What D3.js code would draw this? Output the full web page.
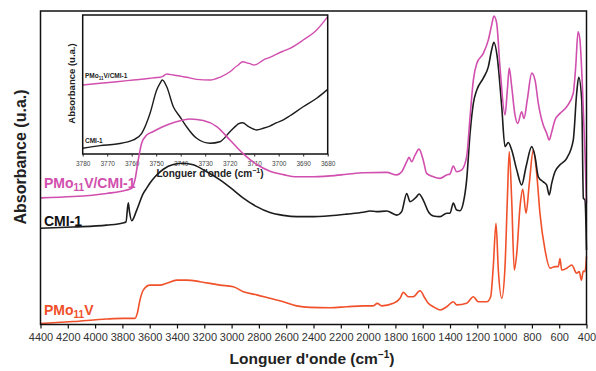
<!DOCTYPE html>
<html>
<head>
<meta charset="utf-8">
<script src="https://cdn.jsdelivr.net/npm/d3@7/dist/d3.min.js"></script>
<style>
  html, body { margin: 0; padding: 0; background: #fff; }
  svg { display: block; font-family: "Liberation Sans", Arial, sans-serif; }
</style>
</head>
<body>
<svg id="chart" width="596" height="371"></svg>
<script>
// FTIR spectra: wavenumber (cm-1) and absorbance (arbitrary units, stacked offsets)
const cmiWavenumber = [4400,4160,3915,3796,3774,3757,3748,3732,3695,3647,3622,3598,3561,3500,3427,3354,3281,3182,3085,2988,2914,2816,2719,2621,2523,2426,2279,2157,2035,1986,1937,1864,1790,1754,1717,1693,1644,1627,1596,1559,1522,1473,1424,1400,1376,1351,1327,1303,1278,1253,1229,1204,1156,1119,1095,1078,1054,1021,997,973,948,911,875,843,801,777,753,717,692,673,655,631,594,545,497,472,457,435,423,411,400];
const cmiAbs = [30.8,31.2,31.8,32.5,32.8,38.9,36.0,33.2,36.6,41.9,43.6,45.2,47.2,49.6,51.1,51.5,51.0,48.8,46.2,43.0,40.4,37.7,35.8,34.9,34.5,34.5,34.8,35.3,35.9,36.3,36.1,36.3,35.0,36.1,41.9,39.3,40.9,41.7,39.8,36.1,34.7,34.5,35.6,35.6,38.8,36.6,36.4,38.8,46.2,61.1,70.6,74.8,78.6,82.3,87.6,90.0,85.4,69.5,56.8,58.1,55.7,49.4,44.6,50.4,56.8,53.6,47.2,45.6,44.6,41.4,45.1,48.8,51.0,53.1,58.9,73.8,78.9,71.7,40.4,39.8,23.9];

const compWavenumber = [4400,4160,3915,3768,3732,3708,3684,3659,3622,3574,3475,3354,3305,3207,3109,3012,2914,2816,2719,2621,2523,2426,2279,2157,2035,1864,1790,1754,1717,1700,1681,1656,1627,1596,1571,1522,1473,1424,1400,1376,1351,1314,1278,1253,1229,1204,1156,1119,1095,1078,1058,1034,997,980,966,948,924,904,875,858,834,801,777,753,717,692,673,657,631,594,545,497,479,462,448,431,411,400];
const compAbs = [40.5,40.9,41.9,43.0,43.5,46.2,52.5,57.9,60.5,61.6,63.7,65.3,65.6,65.1,63.2,58.9,54.5,51.1,49.0,47.9,47.2,47.2,47.5,48.0,48.5,48.6,47.8,48.8,52.0,53.4,52.0,54.1,56.0,52.5,48.3,47.2,46.7,47.8,48.1,50.6,48.8,49.4,53.6,66.3,78.0,83.3,86.5,90.8,95.5,98.4,96.1,82.3,66.9,74.8,81.8,75.9,66.9,64.2,67.9,65.8,71.7,80.2,78.0,70.6,63.7,61.1,58.9,61.1,65.3,67.4,69.5,73.8,82.3,93.4,90.8,77.0,54.7,38.8];

const pmoWavenumber = [4400,4160,3915,3793,3708,3691,3671,3647,3598,3525,3475,3402,3329,3232,3085,2988,2914,2816,2719,2621,2523,2426,2279,2157,2035,1962,1933,1900,1815,1766,1742,1705,1669,1620,1583,1559,1522,1473,1424,1376,1351,1278,1229,1193,1131,1102,1083,1063,1046,1021,997,980,966,948,929,911,887,867,843,819,790,765,741,704,667,631,607,594,582,545,508,472,453,438,423,411,400];
const pmoAbs = [0.5,1.1,1.9,2.1,2.1,3.7,8.0,11.1,12.7,12.7,13.3,14.3,14.3,13.8,12.7,12.2,10.6,9.6,8.5,7.4,6.1,5.6,5.5,5.8,6.1,6.1,6.9,6.1,6.9,8.5,10.4,9.0,9.0,10.9,8.5,6.9,5.8,4.8,5.8,7.4,6.4,6.9,9.0,7.4,7.4,9.0,18.6,32.4,17.5,8.5,18.6,39.8,55.2,39.8,17.5,22.8,37.7,43.2,35.6,45.1,55.7,48.3,35.6,23.9,18.1,18.6,18.6,21.2,17.5,18.1,19.1,16.5,17.0,14.3,17.2,17.0,21.8];

// Inset: zoom on the 3780–3680 cm-1 hydroxyl region
const insetWavenumber = [3780,3772.9,3766.1,3759.3,3755.9,3752.5,3749.8,3748.4,3747.5,3745.7,3743.0,3740.3,3738.9,3737.6,3733.5,3728.0,3724.0,3719.9,3717.1,3716.5,3714.7,3712.4,3711.7,3710.1,3709.0,3706.3,3703.6,3700.8,3698.1,3695.4,3690.0,3684.5,3680];
const insetCompAbs = [49.6,50.9,52.0,53.2,53.8,54.5,55.0,55.2,55.6,57.6,56.8,56.1,55.6,55.2,53.7,53.2,55.2,59.2,63.3,64.0,66.4,65.3,65.0,64.0,64.5,67.6,69.5,71.9,74.0,76.0,82.0,89.2,98.8];
const insetCmiAbs = [4.1,6.0,7.2,10.1,14.9,29.3,46.0,51.0,53.2,48.4,34.0,26.8,23.0,19.6,11.3,7.7,8.8,16.0,20.8,21.6,22.5,19.8,19.2,17.8,17.3,18.5,20.1,22.5,24.5,27.5,34.0,40.1,46.5];

const xTicks = d3.range(4400, 399, -200);
const insetTicks = d3.range(3780, 3679, -10);

const colors = { comp: "#d14fae", cmi: "#1c1c1c", pmo: "#f0502a" };

const svg = d3.select("#chart");

// ---------- main plot ----------
const M = { left: 40.5, right: 586.5, top: 11, bottom: 324.5 };
const x = d3.scaleLinear().domain([4400, 400]).range([M.left, M.right]);
const y = d3.scaleLinear().domain([0, 100]).range([325, 11]);

const line = (xs, ys, xScale, yScale) => d3.line()
  .x((d, i) => xScale(xs[i]))
  .y((d, i) => yScale(ys[i]))
  .curve(d3.curveMonotoneX)(ys);

const series = [
  { xs: pmoWavenumber, ys: pmoAbs, color: colors.pmo },
  { xs: cmiWavenumber, ys: cmiAbs, color: colors.cmi },
  { xs: compWavenumber, ys: compAbs, color: colors.comp }
];

// ---------- inset ----------
const I = { left: 82.7, right: 327.7, top: 15, bottom: 154 };
const ix = d3.scaleLinear().domain([3780, 3680]).range([I.left, I.right]);
const iy = d3.scaleLinear().domain([0, 100]).range([I.bottom, I.top]);

const ig = svg.append("g");
ig.append("path").attr("d", line(insetWavenumber, insetCompAbs, ix, iy))
  .attr("fill", "none").attr("stroke", colors.comp).attr("stroke-width", 1.4);
ig.append("path").attr("d", line(insetWavenumber, insetCmiAbs, ix, iy))
  .attr("fill", "none").attr("stroke", colors.cmi).attr("stroke-width", 1.4);
ig.append("rect").attr("x", I.left).attr("y", I.top)
  .attr("width", I.right - I.left).attr("height", I.bottom - I.top)
  .attr("fill", "none").attr("stroke", "#111").attr("stroke-width", 1.5);

const iAxis = ig.append("g").attr("transform", `translate(0,${I.bottom})`)
  .call(d3.axisBottom(ix).tickValues(insetTicks).tickSize(2.5).tickPadding(5).tickFormat(d3.format("d")));
iAxis.select(".domain").remove();
iAxis.selectAll("line").attr("stroke", "#222");
iAxis.selectAll("text").attr("font-size", 6.5).attr("fill", "#444").attr("font-family", "Liberation Sans, Arial, sans-serif");

ig.append("text").attr("transform", `translate(71,${(I.top + I.bottom) / 2 - 1}) rotate(-90)`)
  .attr("text-anchor", "middle").attr("dominant-baseline", "central")
  .attr("font-size", 9.5).attr("font-weight", "bold").attr("fill", "#222")
  .text("Absorbance (u.a.)");

const ixTitle = ig.append("text").attr("x", 210).attr("y", 177)
  .attr("text-anchor", "middle").attr("font-size", 10).attr("font-weight", "bold").attr("fill", "#222");
ixTitle.append("tspan").text("Longuer d'onde (cm");
ixTitle.append("tspan").attr("dy", -4).attr("font-size", 7).text("−1");
ixTitle.append("tspan").attr("dy", 4).text(")");

const iLab1 = ig.append("text").attr("x", 85).attr("y", 78)
  .attr("font-size", 6.5).attr("font-weight", "bold").attr("fill", "#222");
iLab1.append("tspan").text("PMo");
iLab1.append("tspan").attr("dy", 2).attr("font-size", 4.5).text("11");
iLab1.append("tspan").attr("dy", -2).text("V/CMI-1");
ig.append("text").attr("x", 85).attr("y", 143)
  .attr("font-size", 6.5).attr("font-weight", "bold").attr("fill", "#222").text("CMI-1");

// main spectra
const mg = svg.append("g");
series.forEach(s => {
  mg.append("path").attr("d", line(s.xs, s.ys, x, y))
    .attr("fill", "none").attr("stroke", s.color).attr("stroke-width", 1.6)
    .attr("stroke-linejoin", "round");
});

// frame
svg.append("rect").attr("x", M.left).attr("y", M.top)
  .attr("width", M.right - M.left).attr("height", M.bottom - M.top)
  .attr("fill", "none").attr("stroke", "#111").attr("stroke-width", 1.5);

const xAxis = svg.append("g").attr("transform", `translate(0,${M.bottom})`)
  .call(d3.axisBottom(x).tickValues(xTicks).tickSize(4).tickPadding(5).tickFormat(d3.format("d")));
xAxis.select(".domain").remove();
xAxis.selectAll("line").attr("stroke", "#111").attr("stroke-width", 1.2);
xAxis.selectAll("text").attr("font-size", 11).attr("fill", "#333").attr("font-family", "Liberation Sans, Arial, sans-serif");

// axis titles
const xTitle = svg.append("text").attr("x", 312).attr("y", 364)
  .attr("text-anchor", "middle").attr("font-size", 15.5).attr("font-weight", "bold").attr("fill", "#222");
xTitle.append("tspan").text("Longuer d'onde (cm");
xTitle.append("tspan").attr("dy", -6).attr("font-size", 10).text("−1");
xTitle.append("tspan").attr("dy", 6).text(")");

svg.append("text").attr("transform", `translate(20,157) rotate(-90)`)
  .attr("text-anchor", "middle").attr("dominant-baseline", "central")
  .attr("font-size", 16).attr("font-weight", "bold").attr("fill", "#222")
  .text("Absorbance (u.a.)");

// series labels
function seriesLabel(yPos, color, parts) {
  const t = svg.append("text").attr("x", 44).attr("y", yPos)
    .attr("font-size", 14).attr("font-weight", "bold").attr("fill", color);
  parts.forEach(p => {
    t.append("tspan").attr("dy", p.dy || 0).attr("font-size", p.size || 14).text(p.text);
  });
}
seriesLabel(188, colors.comp, [{ text: "PMo" }, { text: "11", dy: 3, size: 10 }, { text: "V/CMI-1", dy: -3 }]);
seriesLabel(226, "#111", [{ text: "CMI-1" }]);
seriesLabel(315, colors.pmo, [{ text: "PMo" }, { text: "11", dy: 3, size: 10 }, { text: "V", dy: -3 }]);
</script>
</body>
</html>
